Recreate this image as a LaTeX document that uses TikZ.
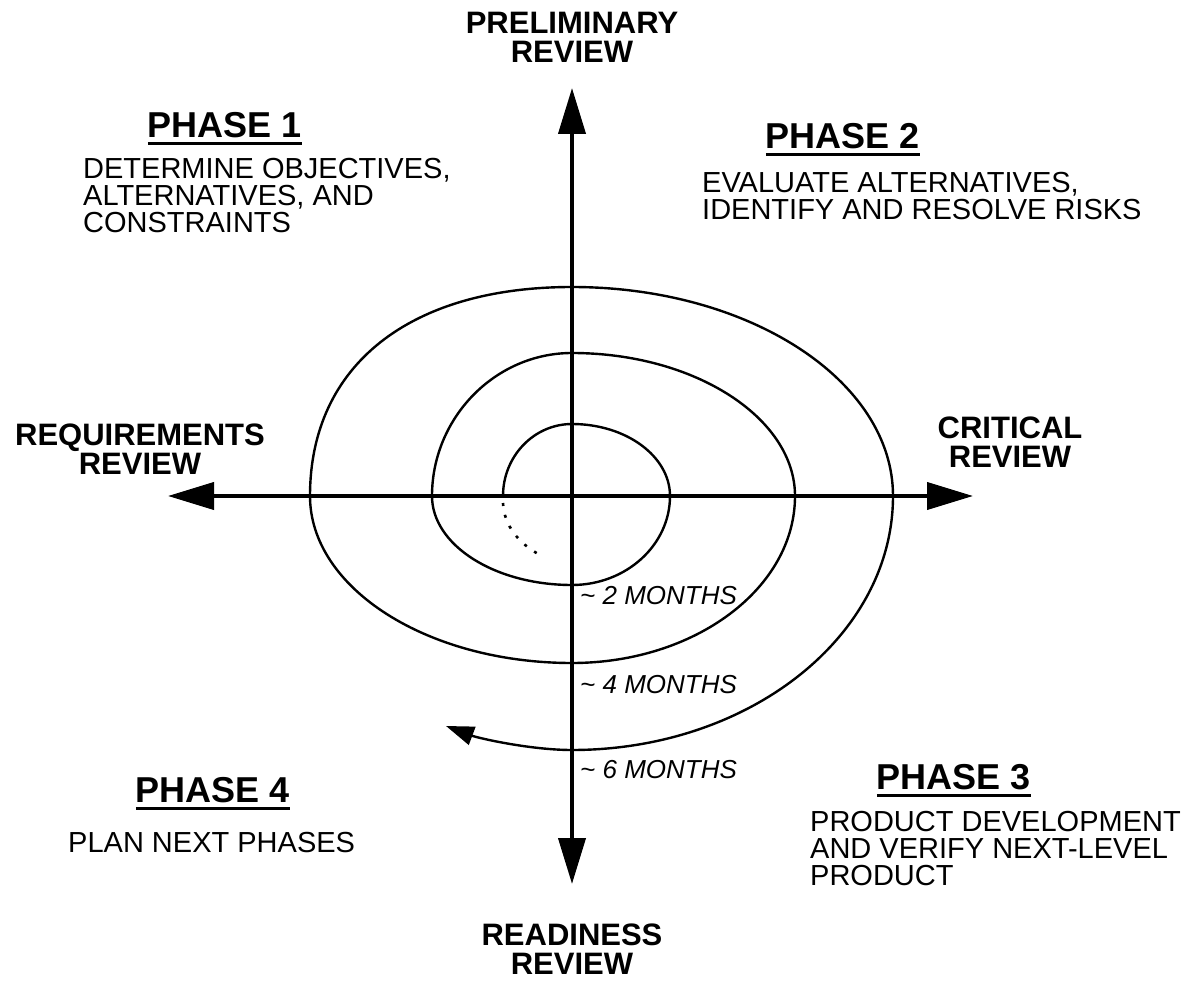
\documentclass[tikz,border=0pt]{standalone}
\usepackage{fontspec}
\setmainfont{Liberation Sans}
\usetikzlibrary{arrows.meta}
\tikzset{
  revlabel/.style={font=\bfseries\fontsize{31}{29}\selectfont, align=center, inner sep=0pt, anchor=north},
  phasehead/.style={font=\bfseries\fontsize{36}{36}\selectfont, inner sep=0pt, anchor=base},
  phasetext/.style={font=\fontsize{29}{27}\selectfont, align=left, inner sep=0pt, anchor=north west},
  monthlbl/.style={font=\itshape\fontsize{26}{26}\selectfont, inner sep=0pt, anchor=base west},
  uline/.style={line width=3pt},
  axisarrow/.style={line width=4pt, -{Triangle[length=46pt,width=27pt]}},
  spiralline/.style={line width=2.4pt, line join=round},
  spiraltip/.style={-{Triangle[length=28pt,width=19pt]}},
  dotpath/.style={line width=2.6pt, dash pattern=on 3pt off 9pt},
}
\begin{document}
\begin{tikzpicture}[x=1pt,y=-1pt]
\useasboundingbox (0,0) rectangle (1191,981);

% axes
\coordinate (O) at (572,496);
\coordinate (N) at (572,88);
\coordinate (S) at (572,884);
\coordinate (W) at (168,496);
\coordinate (E) at (973,496);
\draw[axisarrow] (O) -- (N);
\draw[axisarrow] (O) -- (S);
\draw[axisarrow] (O) -- (W);
\draw[axisarrow] (O) -- (E);

% spiral
\coordinate (sp0) at (503,496);
\coordinate (spend) at (446,726);
\draw[spiralline, spiraltip] (sp0)
  .. controls (503,456.3) and (533.9,424) .. (572,424)
  .. controls (626.1,424) and (670,456.3) .. (670,496)
  .. controls (670,545.1) and (626.1,585) .. (572,585)
  .. controls (494.7,585) and (432,545.1) .. (432,496)
  .. controls (432,418.2) and (494.7,353) .. (572,353)
  .. controls (695.1,353) and (795,418.2) .. (795,496)
  .. controls (795,588.2) and (695.1,663) .. (572,663)
  .. controls (427.4,663) and (310,588.2) .. (310,496)
  .. controls (310,365) and (410,287) .. (572,287)
  .. controls (749.2,287) and (893,380.6) .. (893,496)
  .. controls (893,636.2) and (749.2,750) .. (572,750)
  .. controls (530,750) and (478,738) .. (spend);

% dotted start of spiral
\coordinate (dotend) at (540,555);
\draw[dotpath] (503,503) .. controls (504,525) and (518,543) .. (dotend);

% review labels
\node[revlabel] (prelim) at (572,12) {PRELIMINARY\\REVIEW};
\node[revlabel] (req) at (140,424) {REQUIREMENTS\\REVIEW};
\node[revlabel] (crit) at (1010,417) {CRITICAL\\REVIEW};
\node[revlabel] (ready) at (572,924) {READINESS\\REVIEW};

% phase 1
\node[phasehead] (p1) at (225,138) {PHASE 1};
\draw[uline] ([yshift=-6pt]p1.base west) -- ([yshift=-6pt]p1.base east);
\node[phasetext] (p1t) at (83,158) {DETERMINE OBJECTIVES,\\ALTERNATIVES, AND\\CONSTRAINTS};

% phase 2
\node[phasehead] (p2) at (843,149) {PHASE 2};
\draw[uline] ([yshift=-6pt]p2.base west) -- ([yshift=-6pt]p2.base east);
\node[phasetext] (p2t) at (702,172) {EVALUATE ALTERNATIVES,\\IDENTIFY AND RESOLVE RISKS};

% phase 3
\node[phasehead] (p3) at (954,789) {PHASE 3};
\draw[uline] ([yshift=-6pt]p3.base west) -- ([yshift=-6pt]p3.base east);
\node[phasetext] (p3t) at (810,811) {PRODUCT DEVELOPMENT\\AND VERIFY NEXT-LEVEL\\PRODUCT};

% phase 4
\node[phasehead] (p4) at (213,802) {PHASE 4};
\draw[uline] ([yshift=-6pt]p4.base west) -- ([yshift=-6pt]p4.base east);
\node[phasetext, anchor=base west] (p4t) at (68,852) {PLAN NEXT PHASES};

% month labels
\node[monthlbl] (m2) at (580,604) {\textasciitilde{} 2 MONTHS};
\node[monthlbl] (m4) at (580,693) {\textasciitilde{} 4 MONTHS};
\node[monthlbl] (m6) at (580,778) {\textasciitilde{} 6 MONTHS};
\end{tikzpicture}
\end{document}
